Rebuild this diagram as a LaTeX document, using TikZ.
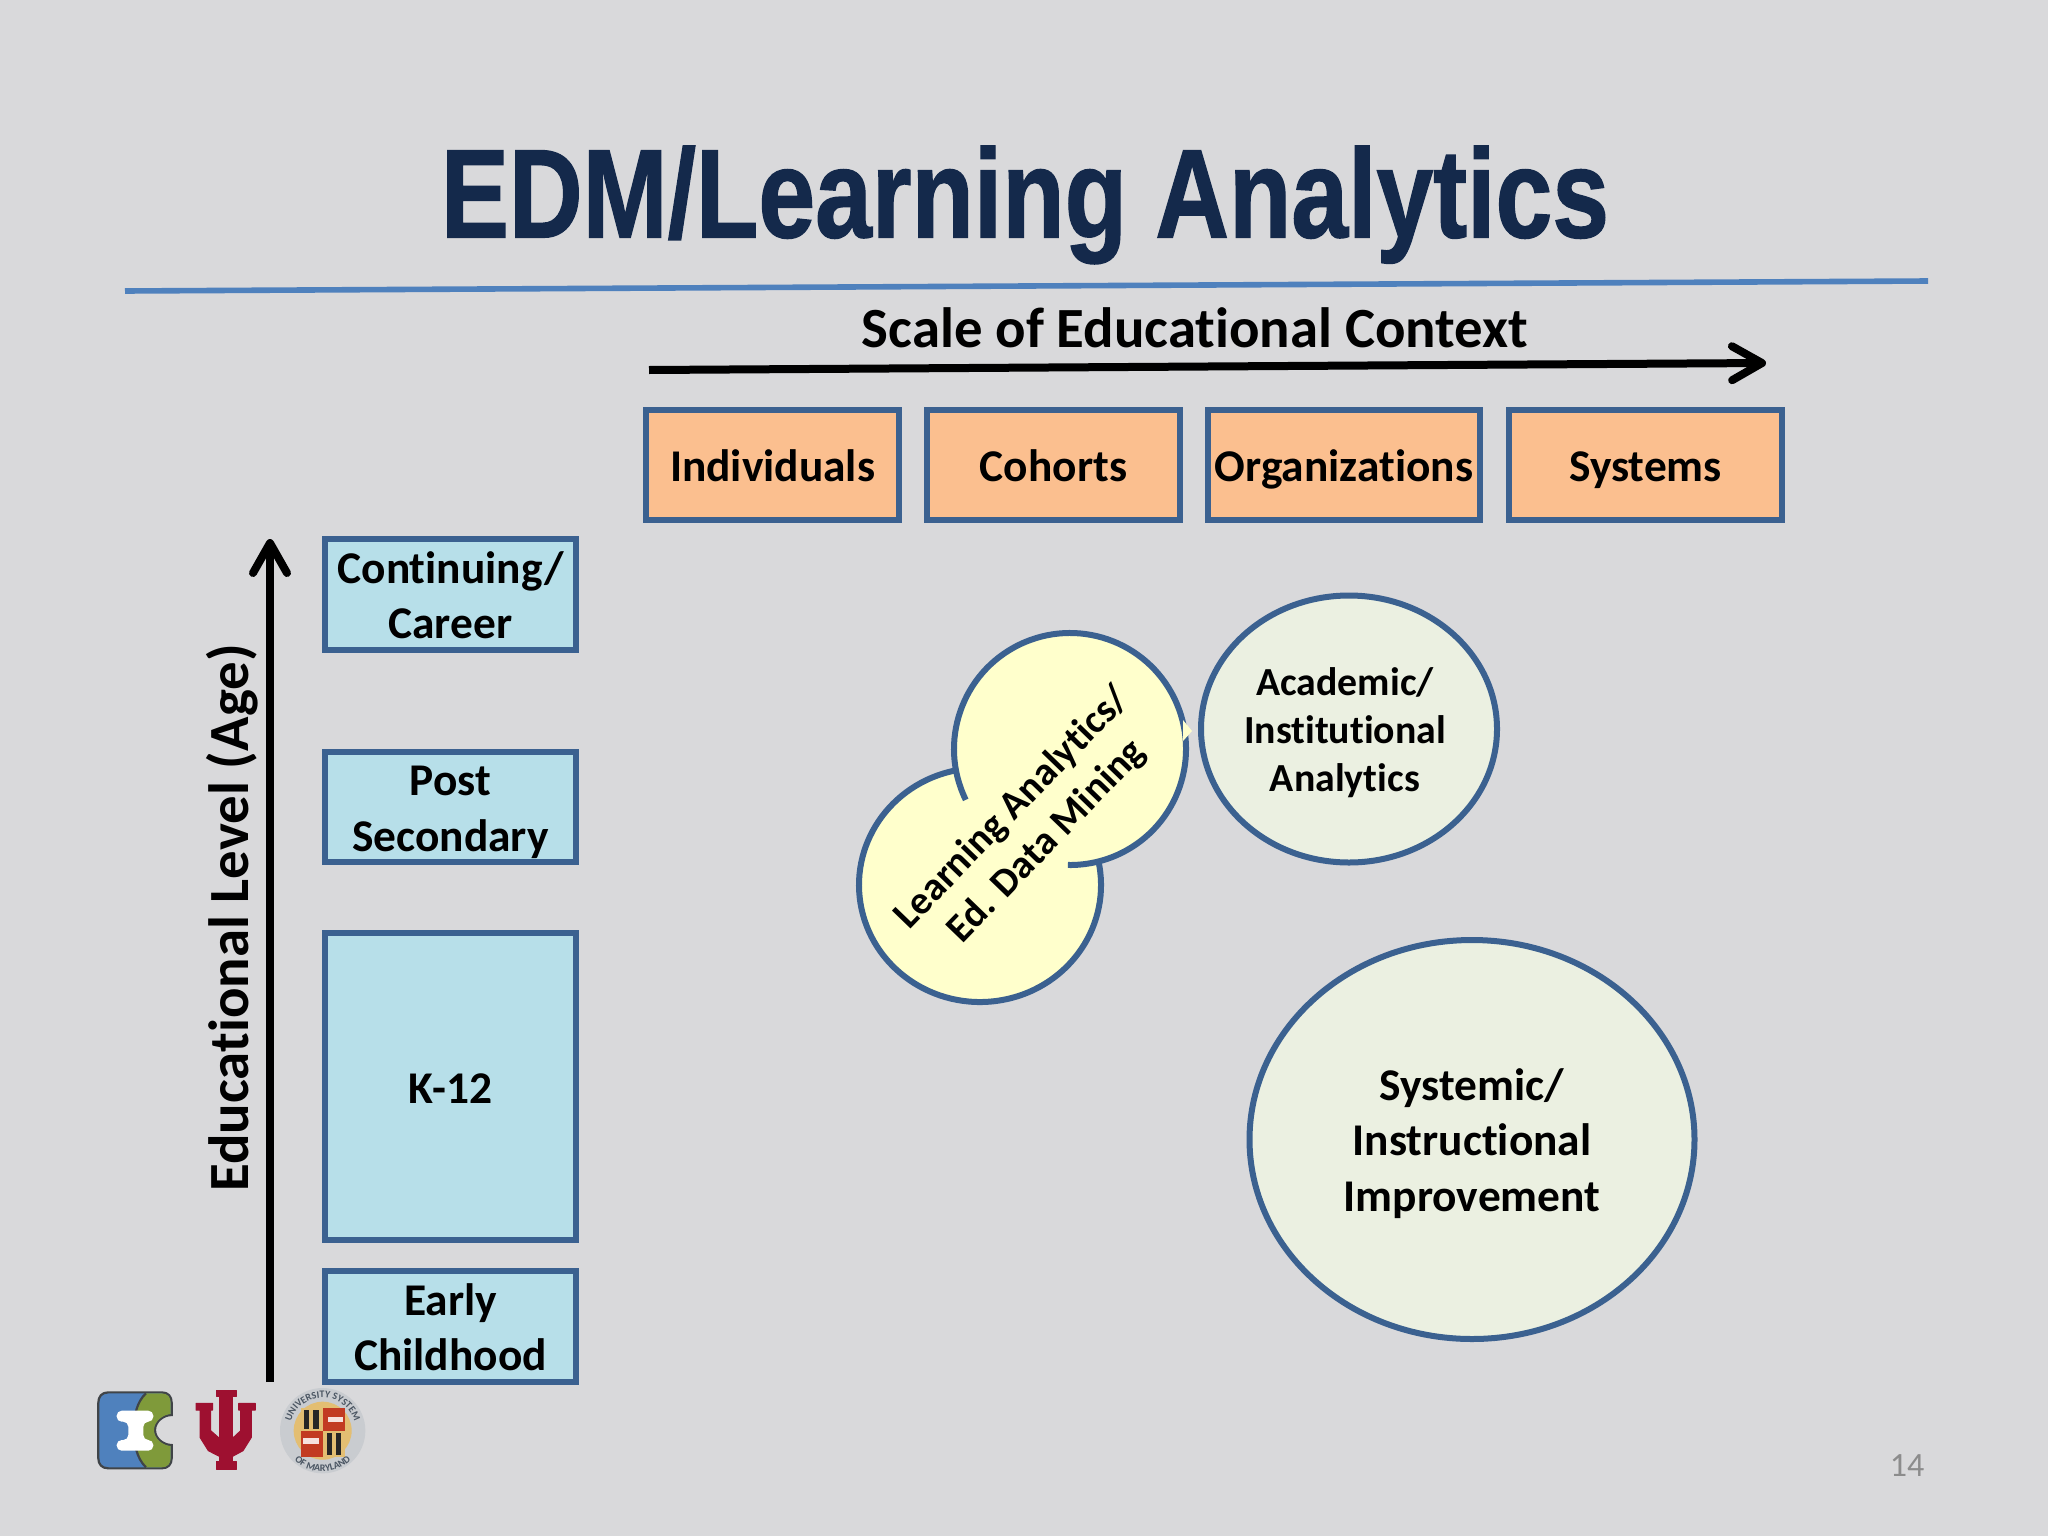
\documentclass[tikz,border=0pt]{standalone}
\usepackage{fontspec}
\usepackage{graphicx}
\setmainfont{Carlito}[Ligatures=NoCommon]
\newfontfamily\titlefont{Liberation Sans}[BoldFeatures={FakeBold=1.2}]
\usetikzlibrary{arrows.meta,shapes.geometric,decorations.text}
\definecolor{bgc}{HTML}{D9D9DB}
\definecolor{titlec}{HTML}{14294B}
\definecolor{rulec}{HTML}{4F81BD}
\definecolor{edgec}{HTML}{3B6190}
\definecolor{orangec}{HTML}{FBBF8F}
\definecolor{bluec}{HTML}{B7DFE9}
\definecolor{creamc}{HTML}{FFFFCC}
\definecolor{palec}{HTML}{EBF0E1}
\definecolor{crimsonc}{HTML}{9E1030}
\definecolor{logoblue}{HTML}{4F81BD}
\definecolor{logogreen}{HTML}{7F9A3A}
\definecolor{logoedge}{HTML}{404448}
\definecolor{goldc}{HTML}{E3BE72}
\definecolor{sealred}{HTML}{C23B22}
\definecolor{sealtext}{HTML}{4A5562}
\newcommand{\bs}{\rule[-3.5pt]{0pt}{23.5pt}}
\tikzset{
  boxbase/.style={draw=edgec,line width=3pt,rectangle,inner sep=0pt,align=center,text=black,
    font=\fontsize{22.7}{27.6}\selectfont\bfseries},
  orangebox/.style={boxbase,fill=orangec,minimum width=#1,minimum height=55pt},
  bluebox/.style={boxbase,fill=bluec,minimum width=125.5pt},
  oval/.style={ellipse,draw=edgec,line width=3pt,fill=palec,inner sep=0pt},
  ovaltext/.style={inner sep=0pt,align=center,text=black},
  bigarrow/.style={line width=4pt,black,-{Straight Barb[round,length=15pt,width=17pt]}},
  heading/.style={font=\fontsize{28.4}{34}\selectfont\bfseries,text=black,inner sep=0pt},
  lobeedge/.style={draw=edgec,line width=3pt},
}
\begin{document}
\begin{tikzpicture}[x=0.5pt,y=-0.5pt]
\useasboundingbox (0,0) rectangle (2048,1536);
\fill[bgc] (0,0) rectangle (2048,1536);
% title and rule
\node[inner sep=0pt,text=titlec] (title) at (1025,205) {\scalebox{0.81}[1]{\titlefont\fontsize{63}{70}\selectfont\bfseries EDM/Learning Analytics}};
\coordinate (ruleL) at (125,291);
\coordinate (ruleR) at (1928,281);
\draw[rulec,line width=2.8pt] (ruleL) -- (ruleR);
% horizontal scale
\node[heading] (scale) at (1195,328) {Scale of Educational Context};
\coordinate (hS) at (649,370);
\coordinate (hE) at (1766,363);
\draw[bigarrow] (hS) -- (hE);
\node[orangebox=126.5pt] (ind) at (772.5,465) {\bs Individuals};
\node[orangebox=126.5pt] (coh) at (1053.5,465) {\bs Cohorts};
\node[orangebox=136pt] (org) at (1344,465) {\bs Organizations};
\node[orangebox=136.5pt] (sys) at (1645.5,465) {\bs Systems};
% vertical scale
\coordinate (vS) at (270,1382);
\coordinate (vE) at (270,539);
\draw[bigarrow] (vS) -- (vE);
\node[heading,rotate=90] (level) at (232,918) {Educational Level (Age)};
\node[bluebox,minimum height=55.5pt] (cont) at (450.5,594.5) {\bs Continuing/\\\bs Career};
\node[bluebox,minimum height=55pt] (post) at (450.5,807) {\bs Post\\\bs Secondary};
\node[bluebox,minimum height=153.5pt] (k12) at (450.5,1086.5) {\bs K-12};
\node[bluebox,minimum height=55.5pt] (early) at (450.5,1326.5) {\bs Early\\\bs Childhood};
% two-lobed learning analytics shape
\node[ellipse,fill=creamc,inner sep=0pt,minimum width=121pt,minimum height=117pt] (lobeB) at (980,885) {};
\node[ellipse,fill=creamc,inner sep=0pt,minimum width=116pt,minimum height=116pt] (lobeA) at (1070,749) {};
\draw[lobeedge] (lobeB.center) ++(102:60.5pt and 58.5pt) arc[start angle=102,end angle=372,x radius=60.5pt,y radius=58.5pt];
\draw[lobeedge] (lobeA.center) ++(206:58pt and 58pt) arc[start angle=206,end angle=-91,x radius=58pt,y radius=58pt];
\fill[creamc] (1183,720) -- (1192,731) -- (1183,741) -- cycle;
\node[rotate=46,ovaltext,font=\fontsize{19.9}{24}\selectfont\bfseries] (la) at (1030,825) {Learning Analytics/\\Ed. Data Mining};
% ovals
\node[oval,minimum width=148pt,minimum height=133.5pt] (acad) at (1349,729) {};
\node[ovaltext,font=\fontsize{19.9}{24}\selectfont\bfseries] (acadtext) at (1345,733) {Academic/\\Institutional\\Analytics};
\node[oval,minimum width=222.5pt,minimum height=199.5pt] (sysimp) at (1472,1139.5) {};
\node[ovaltext,font=\fontsize{22.7}{27.6}\selectfont\bfseries] (sysimptext) at (1472,1143.5) {Systemic/\\Instructional\\Improvement};
% page number
\node[inner sep=0pt,text=black!45,font=\fontsize{17}{20}\selectfont] (page) at (1907,1466) {14};
% logos, traced in coordinates of a 3x enlargement
\begin{scope}[xshift=40pt,yshift=-680pt,x=0.16667pt,y=-0.16667pt]
  % first logo
  \draw[draw=logoedge,fill=logoblue,line width=1.1pt]
    (85,97) -- (245,97) .. controls (265,97) and (275,110) .. (275,128) -- (275,165)
    .. controls (250,165) and (225,185) .. (225,210) .. controls (225,235) and (250,255) .. (275,255)
    -- (275,295) .. controls (275,312) and (265,325) .. (245,325) -- (85,325)
    .. controls (65,325) and (55,312) .. (55,295) -- (55,128) .. controls (55,110) and (65,97) .. (85,97) -- cycle;
  \fill[logogreen]
    (198,100) -- (245,100) .. controls (263,100) and (272,112) .. (272,128) -- (272,162)
    .. controls (247,164) and (222,185) .. (222,210) .. controls (222,235) and (247,256) .. (272,258)
    -- (272,295) .. controls (272,310) and (263,322) .. (245,322) -- (198,322)
    .. controls (170,295) and (160,250) .. (165,210) .. controls (160,170) and (170,125) .. (198,100) -- cycle;
  \draw[logoedge,line width=1.1pt] (198,100) .. controls (170,125) and (160,170) .. (165,210) .. controls (160,250) and (170,295) .. (198,322);
  \fill[white,rounded corners=2.5pt] (110,152) -- (220,152) -- (220,185) -- (190,185) -- (190,240) -- (220,240) -- (220,272) -- (110,272) -- (110,240) -- (145,240) -- (145,185) -- (110,185) -- cycle;
  % trident
  \begin{scope}[fill=crimsonc,draw=crimsonc,line width=0.5pt,line join=round]
  \filldraw (410,90) -- (468,90) -- (468,108) -- (458,108) -- (458,305) -- (468,305) -- (468,327) -- (408,327) -- (408,305) -- (418,305) -- (418,108) -- (410,108) -- cycle;
  \filldraw (348,130) -- (398,130) -- (398,150) -- (392,150) -- (392,212) -- (424,240) -- (424,292) -- (385,272) -- (360,232) -- (360,150) -- (348,150) -- cycle;
  \filldraw (526,130) -- (476,130) -- (476,150) -- (482,150) -- (482,212) -- (452,240) -- (452,292) -- (489,272) -- (514,232) -- (514,150) -- (526,150) -- cycle;
  \end{scope}
  % seal
  \coordinate (sealC) at (728,212);
  \fill[white!70!sealtext] (sealC) circle[x radius=128,y radius=128];
  \fill[goldc] (sealC) circle[x radius=87,y radius=87];
  \fill[goldc] (662,145) rectangle (796,290);
  \fill[sealred] (729,145) rectangle (796,212);
  \fill[sealred] (662,212) rectangle (729,290);
  \fill[black!85] (672,150) rectangle (688,207);
  \fill[black!85] (700,150) rectangle (716,207);
  \fill[black!85] (740,218) rectangle (756,285);
  \fill[black!85] (768,218) rectangle (784,285);
  \fill[white!85!sealred] (745,170) rectangle (790,186);
  \fill[white!85!sealred] (670,235) rectangle (718,252);
  \path[postaction={decorate,decoration={text along path,text align=center,
      text={|\fontsize{5}{6}\selectfont\bfseries\color{sealtext}|UNIVERSITY SYSTEM}}}]
      (sealC) ++(195:16.5pt) arc[start angle=195,end angle=-15,radius=16.5pt];
  \path[postaction={decorate,decoration={text along path,text align=center,
      text={|\fontsize{5}{6}\selectfont\bfseries\color{sealtext}|OF MARYLAND}}}]
      (sealC) ++(205:20.5pt) arc[start angle=205,end angle=335,radius=20.5pt];
\end{scope}
\end{tikzpicture}
\end{document}
